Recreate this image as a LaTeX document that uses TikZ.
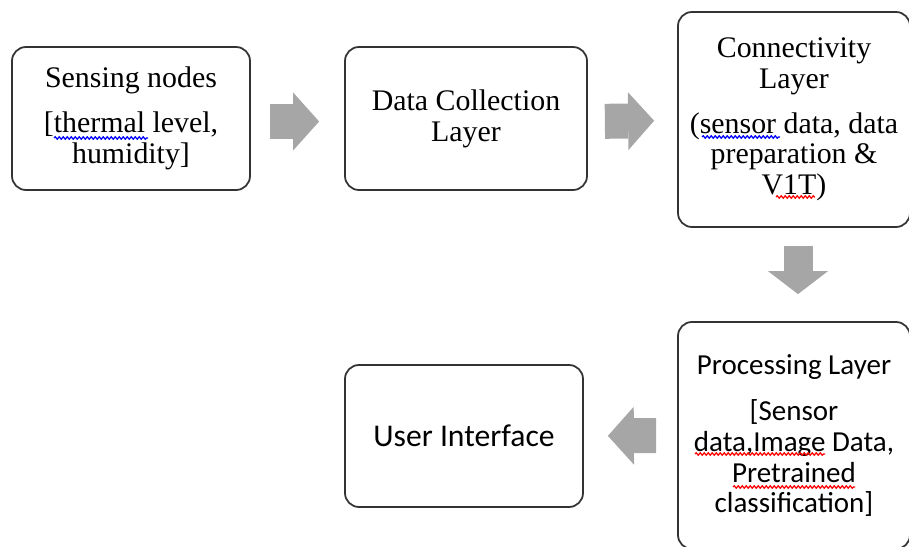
\documentclass[tikz,border=0pt]{standalone}
\usepackage{fontspec}
\setmainfont{Liberation Serif}
\newfontfamily\calibri{Carlito}
\usepackage{tikz}
\usetikzlibrary{arrows.meta}
\usetikzlibrary{positioning}
\usetikzlibrary{decorations.pathmorphing}
\definecolor{arrowgray}{RGB}{166,166,166}
\tikzstyle{layer}=[rectangle,draw=black!80,line width=1pt,rounded corners=0.28cm,align=center,inner sep=0pt,font=\fontsize{17}{17.5}\selectfont]
\tikzstyle{sanslayer}=[layer,font=\calibri\fontsize{16.5}{17.5}\selectfont]
\tikzstyle{blockarrow}=[draw=arrowgray,line width=0.7cm,-{Triangle[length=0.52cm,width=1.16cm,line width=0pt]}]
\tikzstyle{squiggle}=[line width=0.7pt,decorate,decoration={snake,amplitude=0.025cm,segment length=0.08cm}]

\begin{document}
\begin{tikzpicture}
        \useasboundingbox (0,0) rectangle (18.18,10.94);
        \clip (0,0) rectangle (18.18,10.94);
        \node[layer,minimum width=4.76cm,minimum height=2.86cm] at (2.62,8.57) (sensing) {Sensing nodes\\[8pt][thermal level,\\humidity]};
        \node[layer,minimum width=4.84cm,minimum height=2.86cm] at (9.32,8.57) (collect) {Data Collection\\Layer};
        \node[layer,minimum width=4.64cm,minimum height=4.30cm] at (15.88,8.55) (connect) {Connectivity\\Layer\\[8pt](sensor data, data\\preparation \&\\V1T)};
        \node[sanslayer,minimum width=4.64cm,minimum height=4.54cm] at (15.88,2.23) (process) {Processing Layer\\[9pt][Sensor\\data,Image Data,\\Pretrained\\classification]};
        \node[sanslayer,font=\calibri\fontsize{18}{19}\selectfont,minimum width=4.76cm,minimum height=2.84cm] at (9.28,2.22) (ui) {User Interface};
        \draw[blockarrow,shorten <=0.38cm,shorten >=0.5cm] ([yshift=-0.06cm]sensing.east) -- ([yshift=-0.06cm]collect.west);
        \draw[blockarrow,shorten <=0.34cm,shorten >=0.46cm] ([yshift=-0.06cm]collect.east) -- ([yshift=-0.02cm]connect.west);
        \draw[blockarrow,line width=0.58cm,-{Triangle[length=0.46cm,width=1.2cm,line width=0pt]},shorten <=0.36cm,shorten >=0.54cm] ([xshift=0.08cm]connect.south) -- ([xshift=0.08cm]process.north);
        \draw[blockarrow,shorten <=0.42cm,shorten >=0.48cm] (process.west) -- (ui.east);
        % spell check marks
        \draw[squiggle,blue] (1.08,8.18) -- (2.96,8.18);
        \draw[squiggle,blue] (14.04,8.2) -- (15.6,8.2);
        \draw[squiggle,red] (15.52,7.0) -- (16.3,7.0);
        \draw[squiggle,red] (13.9,1.86) -- (16.5,1.86);
        \draw[squiggle,red] (14.66,1.2) -- (17.1,1.2);
      \end{tikzpicture}
\end{document}
